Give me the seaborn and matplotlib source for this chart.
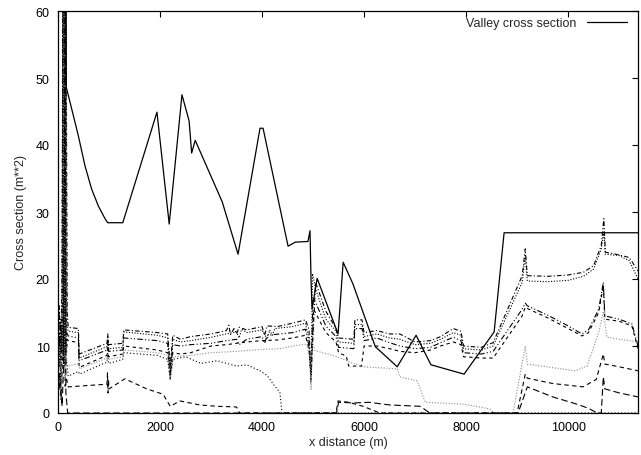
import matplotlib
matplotlib.use("Agg")
import matplotlib.pyplot as plt
import seaborn as sns
import pandas as pd

sns.set_style("white")
plt.rcParams["font.family"] = ["Liberation Sans", "DejaVu Sans"]
plt.rcParams["font.size"] = 9

# Valley cross section along the river (m, m**2)
valley_x = [0, 120, 163, 268, 398, 529, 660, 791, 922, 974, 1270, 1940, 2180, 2430,
            2570, 2620, 2690, 3220, 3530, 3960, 4020, 4510, 4650, 4900, 4940, 4960,
            4980, 5080, 5490, 5590, 5780, 6220, 6650, 7020, 7310, 7960, 8550, 8745, 11370]
valley_y = [120, 120, 48.6, 45.4, 41.4, 36.9, 33.4, 30.9, 29.0, 28.4, 28.4, 44.9, 28.2,
            47.5, 43.6, 38.8, 40.7, 31.5, 23.7, 42.5, 42.5, 24.9, 25.5, 25.6, 27.2, 20.0,
            15.5, 20.1, 11.8, 22.5, 19.3, 9.9, 6.9, 11.6, 7.2, 5.8, 12.1, 26.9, 26.9]

# Flow cross sections at successive output times: (x, area) pairs
flow_a = [(0, 10), (25, 16), (50, 8), (75, 18), (100, 60), (115, 9), (130, 60), (145, 12),
          (160, 60), (180, 15), (200, 12.8), (400, 12.6), (415, 8.8), (960, 10.4), (975, 11.8),
          (990, 10.2), (1270, 10.4), (1290, 12.4), (1950, 12.0), (2150, 11.8), (2200, 7.0),
          (2250, 11.6), (2400, 11.0), (2600, 11.4), (3000, 11.8), (3300, 12.3), (3350, 13.1),
          (3380, 11.7), (3450, 12.6), (3500, 11.8), (3550, 12.8), (3700, 12.4), (4000, 12.9),
          (4050, 11.6), (4100, 13.0), (4300, 12.9), (4600, 13.4), (4850, 13.9), (4920, 12.5),
          (4960, 5.5), (5050, 19.5), (5250, 15.2), (5450, 12.6), (5500, 11.2), (5800, 11.0),
          (5820, 13.9), (5960, 13.9), (6000, 12.0), (6250, 12.3), (6500, 11.8), (6700, 11.8),
          (7000, 10.6), (7300, 10.8), (7500, 11.4), (7750, 12.6), (7900, 12.2), (7950, 10.0),
          (8300, 9.8), (8530, 10.5), (9100, 20.5), (9160, 24.5), (9200, 20.5), (9600, 20.4),
          (10000, 20.6), (10300, 21.0), (10500, 22.0), (10650, 25.0), (10700, 29.0),
          (10730, 24.0), (11000, 23.6), (11200, 23.2), (11370, 21.2)]
flow_b = [(0, 8), (25, 12), (50, 6), (75, 15), (95, 60), (110, 7), (125, 60), (140, 10),
          (155, 60), (175, 13), (200, 12.2), (400, 12.0), (415, 8.2), (960, 9.9), (980, 10.8),
          (990, 9.6), (1270, 9.8), (1290, 12.1), (1950, 11.6), (2150, 11.2), (2200, 6.0),
          (2250, 11.0), (2400, 10.6), (2600, 10.8), (3000, 11.3), (3300, 11.8), (3500, 12.1),
          (3550, 11.2), (3600, 12.5), (3700, 12.0), (4000, 12.4), (4100, 11.0), (4150, 12.4),
          (4200, 11.6), (4250, 12.6), (4600, 12.9), (4850, 13.4), (4920, 11.0), (4960, 4.5),
          (4990, 20.8), (5050, 18.5), (5250, 14.0), (5450, 12.2), (5500, 10.6), (5800, 10.4),
          (5820, 13.2), (5960, 13.2), (6000, 11.4), (6250, 11.8), (6500, 11.2), (6700, 11.0),
          (7000, 10.2), (7300, 10.4), (7500, 11.0), (7750, 12.0), (7900, 11.6), (7950, 9.6),
          (8300, 9.4), (8530, 10.0), (9100, 19.5), (9160, 23.5), (9200, 19.7), (9600, 19.6),
          (10000, 19.8), (10300, 20.4), (10500, 21.5), (10650, 24.5), (10700, 27.0),
          (10730, 23.7), (11000, 23.5), (11200, 22.7), (11370, 20.0)]
flow_c = [(0, 12), (20, 7), (45, 14), (70, 9), (90, 17), (105, 60), (120, 11), (135, 60),
          (150, 9), (170, 12), (200, 11.5), (400, 11.2), (415, 7.8), (960, 9.4), (985, 11.0),
          (995, 9.2), (1270, 9.4), (1290, 11.2), (1950, 10.8), (2150, 10.4), (2200, 5.2),
          (2250, 10.2), (2400, 10.0), (2600, 10.2), (3000, 10.4), (3300, 10.8), (3500, 11.0),
          (3550, 10.2), (3700, 11.0), (4000, 11.4), (4050, 10.4), (4100, 11.6), (4600, 12.0),
          (4850, 12.5), (4920, 10.0), (4960, 6.0), (5000, 17.0), (5050, 16.5), (5250, 13.0),
          (5450, 11.4), (5500, 9.8), (5800, 9.6), (5820, 12.6), (5960, 12.6), (6000, 10.8),
          (6250, 11.2), (6500, 10.5), (6700, 10.0), (7000, 9.6), (7300, 9.8), (7500, 10.5),
          (7750, 11.3), (7900, 10.8), (7950, 9.0), (8300, 8.8), (8530, 9.2), (9100, 15.5),
          (9160, 16.4), (9200, 16.0), (9600, 14.6), (10000, 13.0), (10270, 11.8),
          (10400, 12.4), (10600, 15.5), (10690, 19.5), (10720, 14.5), (11000, 14.0),
          (11250, 13.3), (11370, 10.0)]
flow_d = [(0, 7), (30, 11), (55, 5), (80, 13), (100, 8), (115, 60), (130, 7), (150, 60),
          (165, 9), (185, 11), (200, 10.8), (400, 10.5), (415, 6.8), (960, 8.6), (980, 10.0),
          (990, 8.4), (1270, 8.8), (1290, 10.0), (1950, 9.4), (2150, 9.0), (2200, 5.5),
          (2250, 9.0), (2400, 8.8), (2600, 9.0), (3000, 10.0), (3300, 10.2), (3500, 10.4),
          (3700, 10.6), (4000, 10.8), (4300, 10.9), (4600, 11.2), (4850, 11.6), (4920, 9.5),
          (4960, 5.0), (5010, 15.5), (5250, 12.0), (5450, 10.6), (5500, 9.0), (5650, 8.5),
          (5700, 7.0), (5950, 7.0), (6000, 10.0), (6250, 10.0), (6500, 9.6), (6700, 9.2),
          (7000, 9.0), (7300, 9.4), (7500, 10.0), (7750, 10.6), (7900, 10.2), (7950, 8.4),
          (8300, 8.2), (8530, 8.2), (9100, 14.5), (9160, 15.8), (9200, 15.6), (9600, 14.2),
          (10000, 12.6), (10270, 11.5), (10400, 12.0), (10600, 15.0), (10690, 19.0),
          (10720, 14.0), (11000, 13.7), (11250, 13.0), (11370, 9.6)]
flow_e = [(0, 5), (30, 9), (60, 4), (90, 12), (110, 60), (125, 6), (145, 60), (160, 8),
          (180, 7), (200, 5.5), (400, 6.2), (420, 5.8), (960, 7.6), (975, 9.0), (990, 7.4),
          (1270, 8.0), (1290, 9.0), (1950, 8.6), (2150, 8.0), (2200, 5.0), (2250, 8.0),
          (2500, 8.4), (2800, 7.4), (3120, 7.8), (3500, 7.0), (3700, 7.2), (3960, 6.3),
          (4100, 5.6), (4250, 4.0), (4350, 3.1), (4390, 0), (11370, 0)]
flow_f = [(0, 3), (30, 6), (60, 2), (90, 8), (125, 60), (140, 4), (170, 5), (200, 3.9),
          (960, 4.3), (970, 6.0), (980, 3.0), (990, 5.0), (1000, 3.6), (1310, 5.1),
          (1740, 3.6), (2060, 2.8), (2200, 1.0), (2390, 1.8), (2780, 1.2), (3120, 1.0),
          (3500, 0.9), (3560, 0), (5450, 0), (5490, 1.8), (5700, 1.6), (5980, 1.0), (6310, 0),
          (9000, 0), (9160, 5.8), (9200, 5.2), (9700, 4.4), (10290, 3.9), (10550, 5.0),
          (10690, 8.8), (10720, 7.3), (11000, 6.9), (11370, 6.3)]
flow_g = [(0, 6), (35, 10), (65, 3), (95, 14), (120, 60), (135, 5), (155, 60), (170, 7),
          (200, 7.0), (400, 7.4), (420, 6.6), (960, 8.2), (990, 8.0), (1270, 8.4),
          (1290, 9.4), (1950, 9.0), (2150, 8.6), (2200, 4.8), (2260, 8.4), (2600, 8.6),
          (3000, 9.0), (3500, 9.2), (4000, 9.5), (4350, 9.6), (4600, 10.0), (4880, 10.3),
          (4940, 8.0), (4960, 3.5), (4990, 10.5), (5040, 9.3), (5430, 8.5), (5730, 7.6),
          (5960, 6.9), (6650, 6.6), (6700, 5.4), (7040, 4.8), (7200, 1.6), (7980, 1.3),
          (8470, 0.6), (8550, 0), (8920, 0), (9160, 10.0), (9200, 7.3), (10140, 6.3),
          (10370, 7.0), (10600, 12.0), (10690, 15.1), (10760, 11.3), (11370, 10.6)]
flow_h = [(0, 2), (40, 5), (80, 1), (110, 7), (140, 60), (155, 3), (190, 0), (5460, 0),
          (5500, 1.6), (5800, 1.5), (6100, 1.6), (6500, 1.2), (7100, 1.0), (7290, 0),
          (9020, 0), (9200, 3.9), (9700, 2.4), (10180, 1.3), (10400, 0.7), (10570, 0),
          (10650, 0), (10690, 5.4), (10720, 3.6), (11000, 3.0), (11370, 2.4)]

flow_styles = [
    (flow_a, "black", (0, (4, 2, 1, 2))),
    (flow_b, "black", (0, (1, 1.5))),
    (flow_c, "black", (0, (5, 2, 1, 2, 1, 2))),
    (flow_d, "black", (0, (3, 3))),
    (flow_e, "black", (0, (1, 2))),
    (flow_f, "black", (0, (4, 3))),
    (flow_g, "#8c8c8c", (0, (1, 1.5))),
    (flow_h, "black", (0, (6, 3))),
]

fig = plt.figure(figsize=(6.41, 4.56), dpi=100)
ax = fig.add_axes([58 / 641, 42 / 456, 580 / 641, 402 / 456])

for pts, col, ls in flow_styles:
    df = pd.DataFrame(pts, columns=["x", "area"])
    sns.lineplot(data=df, x="x", y="area", ax=ax, color=col, linestyle=ls,
                 linewidth=0.8, estimator=None, sort=False, legend=False)

valley = pd.DataFrame({"x": valley_x, "area": valley_y})
sns.lineplot(data=valley, x="x", y="area", ax=ax, color="black", linewidth=0.9,
             estimator=None, sort=False, label="Valley cross section")

ax.set_xlim(0, 11370)
ax.set_ylim(0, 60)
ax.set_xticks([0, 2000, 4000, 6000, 8000, 10000])
ax.set_yticks([0, 10, 20, 30, 40, 50, 60])
ax.tick_params(direction="in", length=4, width=0.8, top=True, right=True,
               labelsize=9, pad=6, colors="black")
for s in ax.spines.values():
    s.set_linewidth(0.9)
    s.set_color("black")
ax.set_xlabel("x distance (m)", fontsize=9, labelpad=2)
ax.set_ylabel("Cross section (m**2)", fontsize=9, labelpad=6)

leg = ax.legend(loc="upper right", bbox_to_anchor=(1.0, 1.012), frameon=False,
                markerfirst=False, handlelength=3.2, handletextpad=0.8, fontsize=9)

fig.savefig("out.png", dpi=100)
